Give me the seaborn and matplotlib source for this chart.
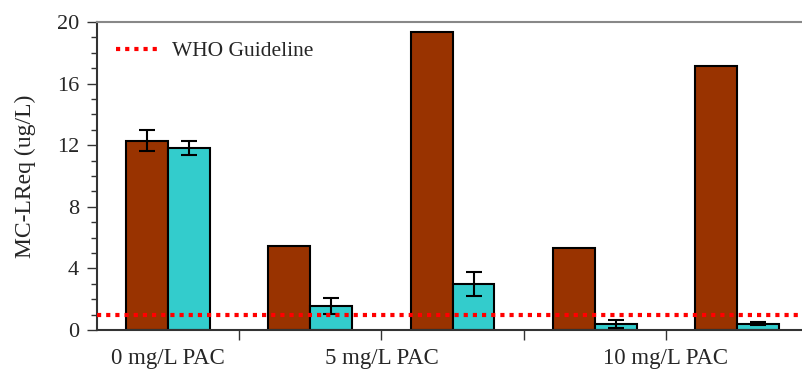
import numpy as np
import pandas as pd
import matplotlib
matplotlib.use("Agg")
import matplotlib.pyplot as plt
import seaborn as sns
from matplotlib.ticker import MultipleLocator

# ── 데이터 ───────────────────────────────────────────────────────────────
slots = ["A", "B", "C", "D", "E"]
series = ["Before", "After"]
before_vals = [12.3, 5.45, 19.35, 5.35, 17.15]
after_vals = [11.8, 1.58, 3.0, 0.42, 0.42]
before_err = [0.7, np.nan, np.nan, np.nan, np.nan]
after_err = [0.45, 0.53, 0.78, 0.26, 0.1]
who_guideline = 1.0
group_labels = ["0 mg/L PAC", "5 mg/L PAC", "10 mg/L PAC"]
group_label_pos = [0, 1.5, 3.5]
colors = ["#993300", "#33CCCC"]

df = pd.DataFrame({
    "slot": slots * 2,
    "series": [series[0]] * 5 + [series[1]] * 5,
    "value": before_vals + after_vals,
    "err": before_err + after_err,
})

sns.set_style("white")
plt.rcParams["font.family"] = ["Liberation Serif", "DejaVu Serif"]

fig = plt.figure(figsize=(8.02, 3.71), dpi=100)
ax = fig.add_axes([0.121, 0.1105, 0.8865, 0.8302])

sns.barplot(
    data=df, x="slot", y="value", hue="series", order=slots,
    hue_order=series, palette=colors, width=0.59, gap=0,
    edgecolor="black", linewidth=1.5, errorbar=None, saturation=1,
    legend=False, ax=ax,
)

# 에러바: 막대 중심 위치에 맞춤
for cont, s in zip(ax.containers, series):
    sub = df[df["series"] == s]
    for bar, (_, row) in zip(cont, sub.iterrows()):
        if np.isnan(row["err"]):
            continue
        xc = bar.get_x() + bar.get_width() / 2
        ax.errorbar(xc, row["value"], yerr=row["err"], fmt="none",
                    ecolor="black", elinewidth=1.5, capsize=6, capthick=1.5,
                    zorder=5)

ax.axhline(who_guideline, color="#FF0000", linestyle=(0, (1, 1.2)),
           linewidth=3, label="WHO Guideline", zorder=6)

ax.set_xlim(-0.5, 4.5)
ax.set_ylim(0, 20)
ax.yaxis.set_major_locator(MultipleLocator(4))
ax.yaxis.set_minor_locator(MultipleLocator(1))
ax.xaxis.remove_overlapping_locs = False
ax.set_xticks([0.5, 1.5, 2.5, 3.5], labels=["", "", "", ""])
ax.set_xticks(group_label_pos, labels=group_labels, minor=True)
ax.tick_params(axis="x", which="major", direction="out", length=7,
               width=1, color="#333333", bottom=True)
ax.tick_params(axis="x", which="minor", length=0, pad=13, labelsize=16.5)
ax.tick_params(axis="y", which="major", direction="out", length=7,
               width=1, color="#333333", left=True, labelsize=16, pad=6)
ax.tick_params(axis="y", which="minor", direction="out", length=4,
               width=1, color="#333333", left=True)

ax.set_xlabel("")
ax.set_ylabel("MC-LReq (ug/L)", fontsize=17, labelpad=15)

for side in ["left", "bottom"]:
    ax.spines[side].set_color("#333333")
    ax.spines[side].set_linewidth(1.5)
ax.spines["top"].set_color("#888888")
ax.spines["top"].set_linewidth(1.5)
ax.spines["right"].set_visible(False)

ax.legend(loc="upper left", frameon=False, fontsize=15.5,
          handlelength=2.0, handletextpad=0.6, bbox_to_anchor=(0.0, 1.0))

fig.savefig("out.png", dpi=100)
